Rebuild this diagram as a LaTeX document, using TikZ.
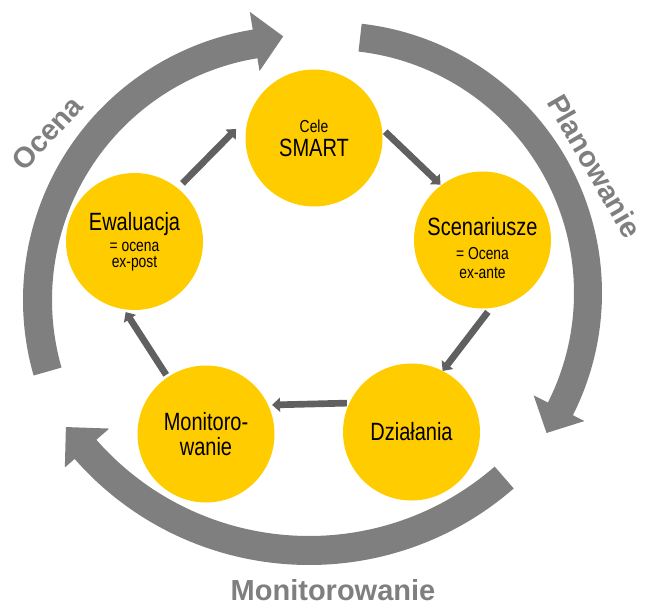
\documentclass[tikz,border=0pt]{standalone}
\usepackage{fontspec}
\setmainfont{Liberation Sans}[FakeStretch=0.8]
\newfontfamily\ringfont{Liberation Sans}
\usetikzlibrary{calc,arrows.meta}
\definecolor{sunyellow}{HTML}{FFCC00}
\definecolor{ringgray}{HTML}{7F7F7F}
\definecolor{flowgray}{HTML}{606060}

\begin{document}
\begin{tikzpicture}[x=0.75pt,y=0.75pt,
  stage/.style={circle,fill=sunyellow,minimum size=102.75pt,inner sep=0pt,outer sep=0pt,align=center},
  flow/.style={flowgray,line width=5pt,-{Triangle[length=6pt,width=10.5pt]}},
  ringlabel/.style={ringgray,font=\ringfont\bfseries\fontsize{21.75}{24}\selectfont}]

\useasboundingbox (0,0) rectangle (645,608);

% centres of the three big arrows
\coordinate (oc) at (297,308);
\coordinate (pl) at (331,315);
\coordinate (mo) at (309,355);

\fill[ringgray] ($(oc)+(196:274)$) arc[start angle=196,end angle=99.3,radius=274]
  -- ($(oc)+(99.3:292)$) -- ($(oc)+(93:264)$) -- ($(oc)+(99.3:232)$)
  -- ($(oc)+(99.3:245)$) arc[start angle=99.3,end angle=196,radius=245] -- cycle;
\fill[ringgray] ($(pl)+(83.5:271)$) arc[start angle=83.5,end angle=-26.8,radius=271]
  -- ($(pl)+(-26.8:284)$) -- ($(pl)+(-33:257)$) -- ($(pl)+(-26.8:227)$)
  -- ($(pl)+(-26.8:243)$) arc[start angle=-26.8,end angle=83.5,radius=243] -- cycle;
\fill[ringgray] ($(mo)+(-49:312)$) arc[start angle=-49,end angle=-138.7,radius=312]
  -- ($(mo)+(-138.7:325)$) -- ($(mo)+(-144.4:299)$) -- ($(mo)+(-138.7:266)$)
  -- ($(mo)+(-138.7:283)$) arc[start angle=-138.7,end angle=-49,radius=283] -- cycle;

\node[ringlabel,anchor=base] (monlbl) at (333,7.3) {Monitorowanie};
\node[ringlabel,rotate=-60] (planlbl) at (595,442) {Planowanie};
\node[ringlabel,rotate=47] (ocelbl) at (47,475) {Ocena};

% stages
\node[stage,font=\fontsize{13}{18.2}\selectfont] (cele) at (314,470)
  {Cele\\{\fontsize{18.75}{12}\selectfont SMART}};
\node[stage,font=\fontsize{13}{12}\selectfont] (scen) at (482.5,368)
  {{\fontsize{18.75}{12}\selectfont\rule{0pt}{26pt}Scenariusze}\\[6pt]= Ocena\\[2.25pt]ex-ante};
\node[stage,font=\fontsize{18.75}{22}\selectfont] (dzia) at (411.5,176) {Działania};
\node[stage,font=\fontsize{18.75}{19.3}\selectfont] (monit) at (206,174) {Monitoro-\\wanie};
\node[stage,font=\fontsize{13}{12}\selectfont] (ewal) at (134.5,366.5)
  {{\fontsize{18.75}{12}\selectfont Ewaluacja}\\[3.75pt]= ocena\\ex-post};

\draw[flow,shorten <=5.2pt,shorten >=14pt] (ewal.51.5) -- (cele.161.1);
\draw[flow,shorten <=3.5pt,shorten >=0.75pt] (cele.8.6) -- (scen.127.6);
\draw[flow,shorten <=3.7pt] (scen.-83.7) -- (dzia.63.4);
\draw[flow,shorten <=1.9pt,shorten >=3pt] (dzia.155) -- (monit.25);
\draw[flow,shorten <=2.1pt,shorten >=2.6pt] (monit.124.2) -- (ewal.-99.6);

\end{tikzpicture}
\end{document}
